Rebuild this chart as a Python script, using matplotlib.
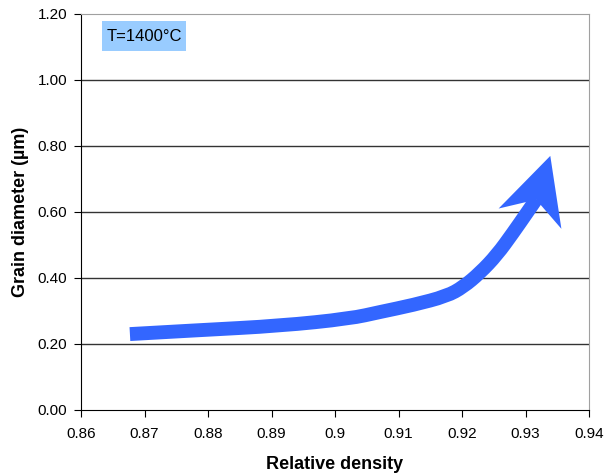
import numpy as np
import matplotlib
matplotlib.use("Agg")
import matplotlib.pyplot as plt
from matplotlib.patches import Polygon, Rectangle, PathPatch
from matplotlib.path import Path

plt.rcParams['font.family'] = ['Liberation Sans', 'DejaVu Sans']

# curve
density = [0.8677, 0.8787, 0.8913, 0.9024, 0.9071, 0.9123, 0.9176, 0.9202,
           0.9228, 0.9255, 0.9280, 0.9302, 0.9317]
diameter = [0.230, 0.242, 0.255, 0.277, 0.297, 0.318, 0.345, 0.373,
            0.415, 0.470, 0.536, 0.597, 0.639]
tip = (0.9339, 0.770)

xticks = [0.86, 0.87, 0.88, 0.89, 0.90, 0.91, 0.92, 0.93, 0.94]
xlabels = ['0.86', '0.87', '0.88', '0.89', '0.9', '0.91', '0.92', '0.93', '0.94']
yticks = [0.0, 0.2, 0.4, 0.6, 0.8, 1.0, 1.2]

blue = '#3366FF'

fig = plt.figure(figsize=(6.06, 4.76), dpi=100)
ax = fig.add_axes([0.1337, 0.1387, 0.972 - 0.1337, 0.9706 - 0.1387])
ax.set_xlim(0.86, 0.94)
ax.set_ylim(0, 1.2)

for y in yticks[1:-1]:
    ax.axhline(y, color='#333333', lw=1, zorder=1)

# smoothed body: quadratic segments through the midpoints of the read points
pts = list(zip(density, diameter))
verts = [pts[0]]
codes = [Path.MOVETO]
for i in range(1, len(pts) - 1):
    mid = ((pts[i][0] + pts[i + 1][0]) / 2, (pts[i][1] + pts[i + 1][1]) / 2)
    verts += [pts[i], mid]
    codes += [Path.CURVE3, Path.CURVE3]
verts.append(pts[-1])
codes.append(Path.LINETO)
body = PathPatch(Path(verts, codes), facecolor='none', edgecolor=blue, lw=10,
                 capstyle='butt', joinstyle='round', zorder=3)
ax.add_patch(body)

# stealth head, built in pixel space from the end of the curve towards the tip
fig.canvas.draw()
tr = ax.transData
p0 = np.array(tr.transform((density[-1], diameter[-1])))
p1 = np.array(tr.transform(tip))
d = p1 - p0
d = d / np.hypot(*d)
n = np.array([-d[1], d[0]])
back = p1 - d * 66
notch = p1 - d * 46
head_px = [p1, back + n * 33, notch, back - n * 33]
head = Polygon(head_px, closed=True, transform=None, facecolor=blue,
               edgecolor='none', zorder=4)
ax.add_patch(head)

ax.set_xticks(xticks)
ax.set_xticklabels(xlabels)
ax.set_yticks(yticks)
ax.set_yticklabels(['%.2f' % v for v in yticks])
ax.tick_params(labelsize=11, direction='out', length=5, color='black')
ax.tick_params(axis='x', pad=7)
ax.tick_params(axis='y', pad=5)

for s in ['top', 'right']:
    ax.spines[s].set_color('#A0A0A0')
for s in ['left', 'bottom']:
    ax.spines[s].set_color('black')

ax.set_xlabel('Relative density', fontsize=13, fontweight='bold', labelpad=11)
ax.set_ylabel('Grain diameter (µm)', fontsize=13, fontweight='bold', labelpad=6)

ax.add_patch(Rectangle((0.0413, 0.9066), 0.1654, 0.0754, transform=ax.transAxes,
                       facecolor='#99CCFF', edgecolor='none', zorder=5))
ax.text(0.124, 0.944, 'T=1400°C', fontsize=12, ha='center', va='center',
        transform=ax.transAxes, zorder=6)

fig.savefig('out.png', dpi=100)
